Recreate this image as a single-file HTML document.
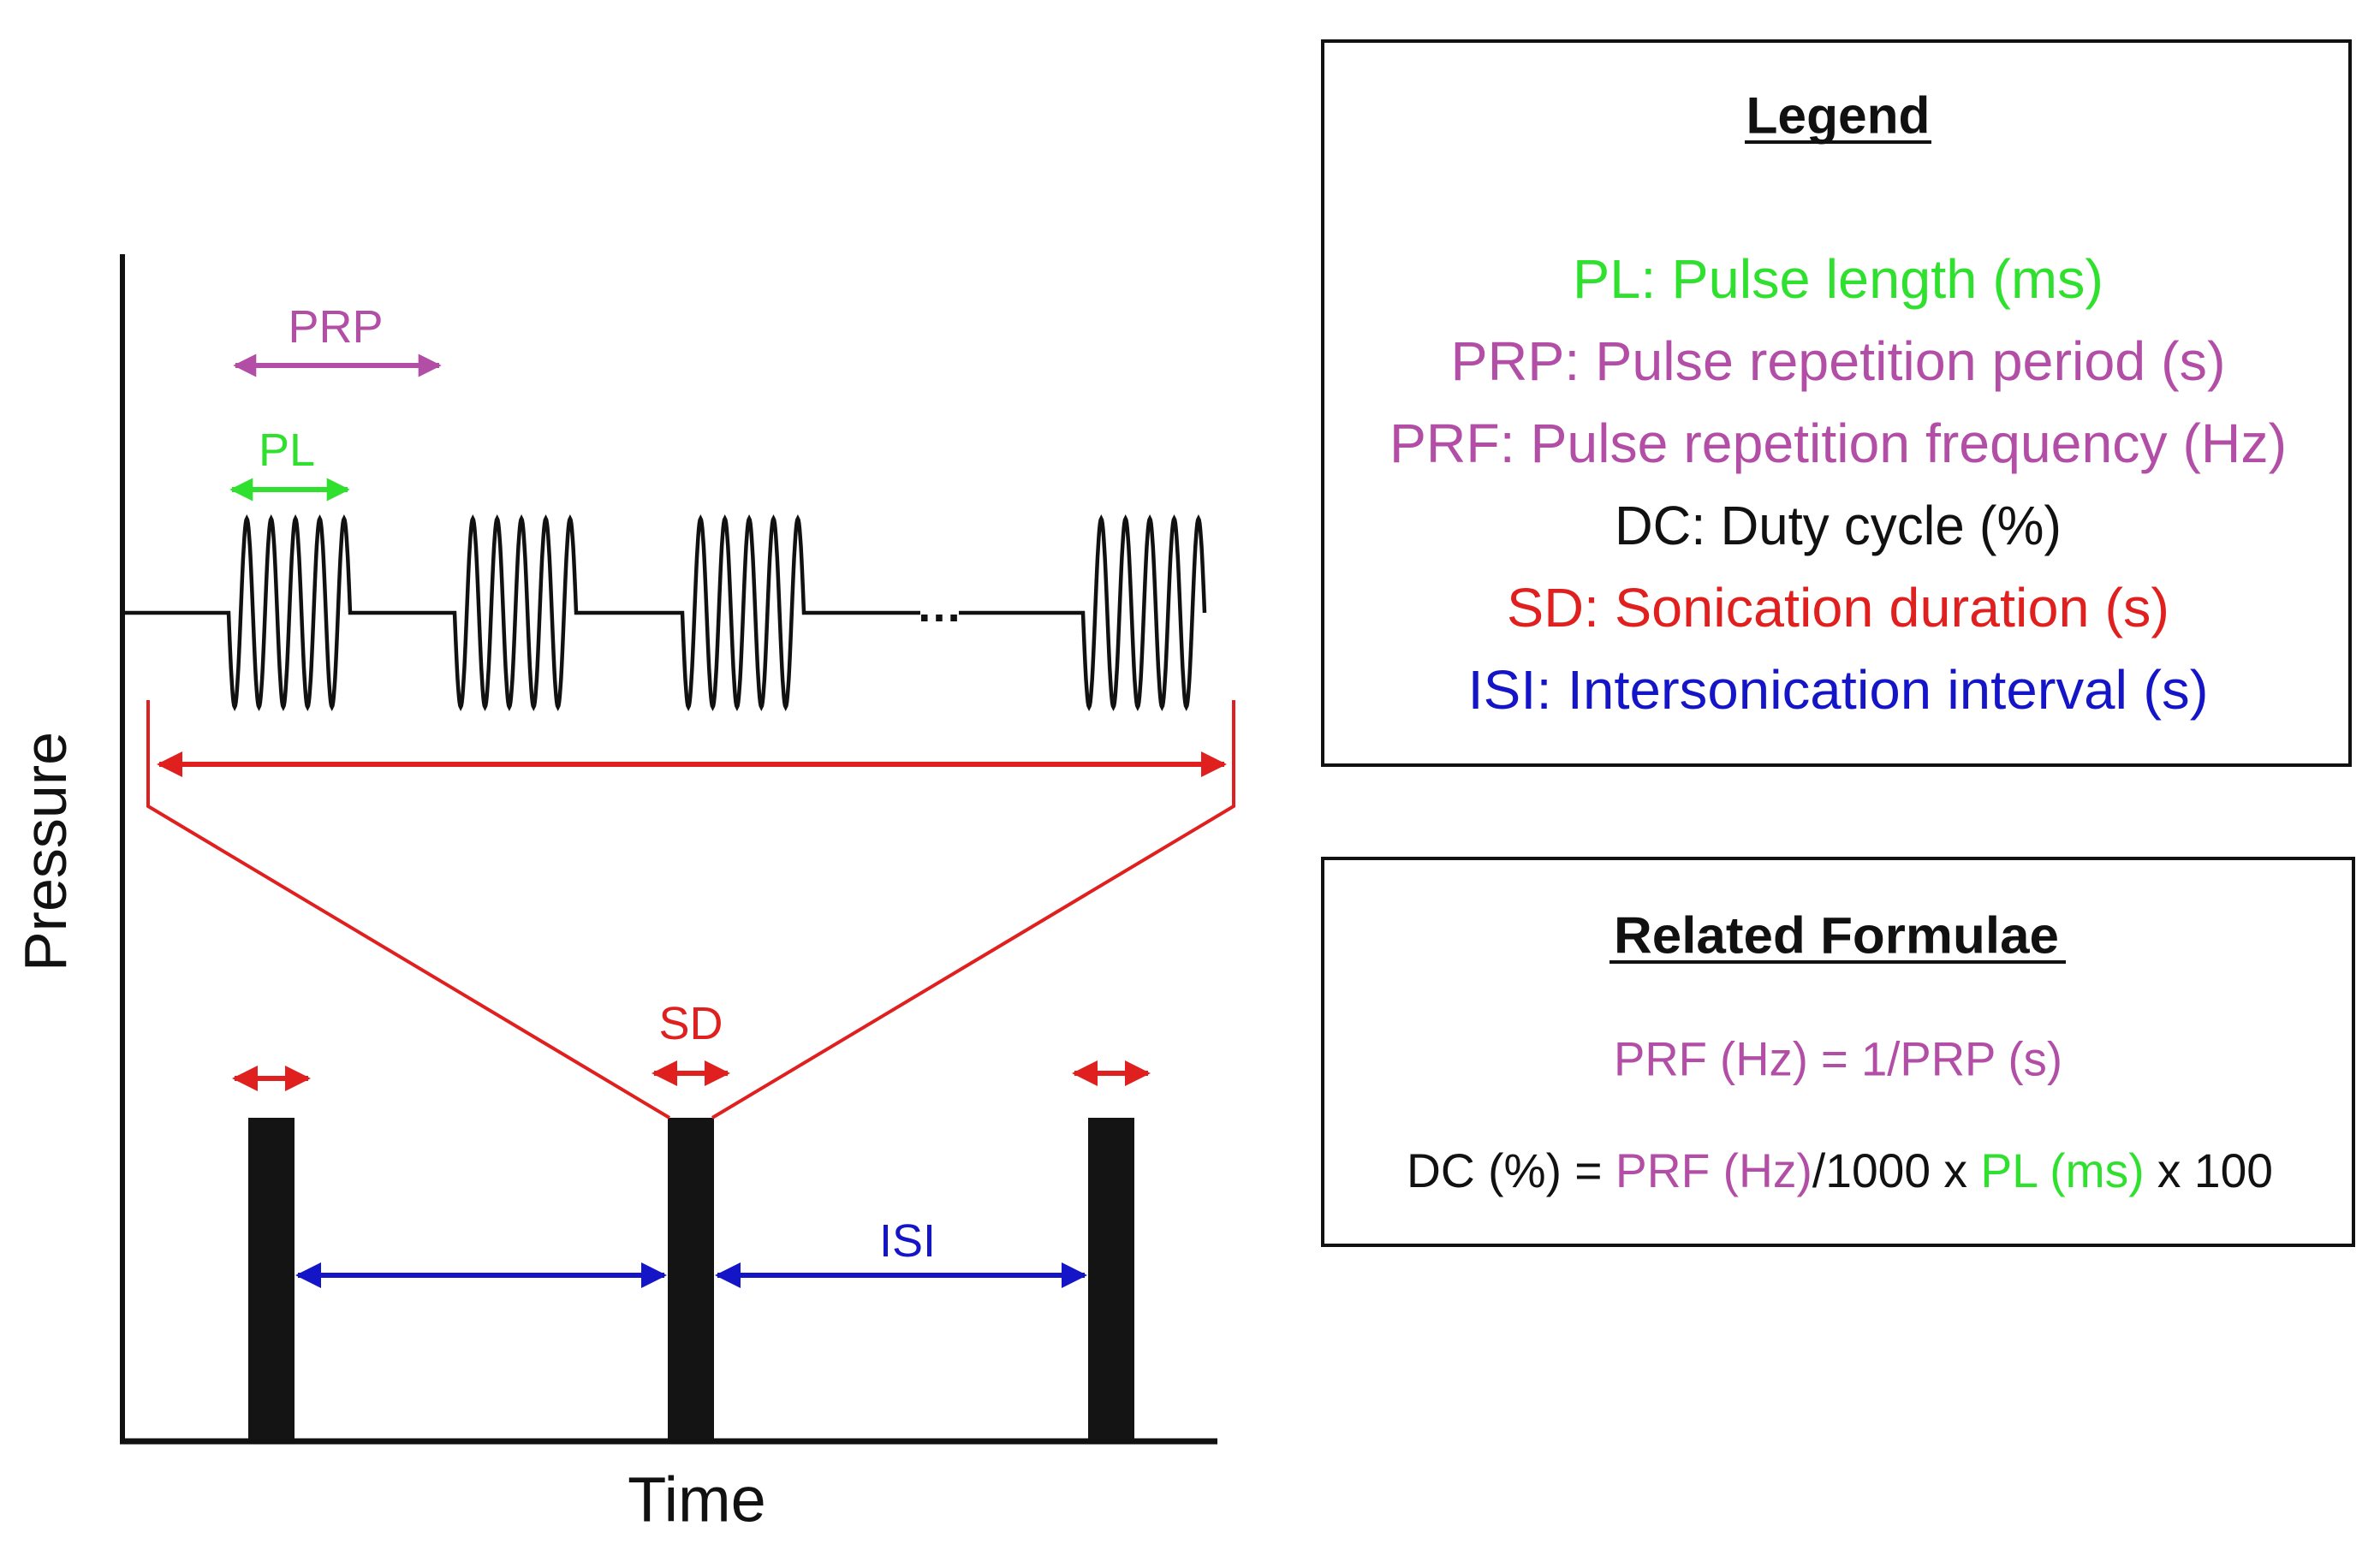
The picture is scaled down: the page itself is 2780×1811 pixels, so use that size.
<!DOCTYPE html>
<html><head><meta charset="utf-8"><style>
html,body{margin:0;padding:0;background:#fff;}
svg{display:block;font-family:"Liberation Sans",sans-serif;}
</style></head>
<body>
<svg id="fig" width="2780" height="1811" viewBox="0 0 2780 1811" xmlns="http://www.w3.org/2000/svg">
<defs>
<marker id="aRed" viewBox="0 0 10 10" refX="9" refY="5" markerWidth="5" markerHeight="5" orient="auto-start-reverse"><path d="M0,0 L10,5 L0,10 z" fill="#e01f1f"/></marker>
<marker id="aBlue" viewBox="0 0 10 10" refX="9" refY="5" markerWidth="5" markerHeight="5" orient="auto-start-reverse"><path d="M0,0 L10,5 L0,10 z" fill="#1515c8"/></marker>
<marker id="aGreen" viewBox="0 0 10 10" refX="9" refY="5" markerWidth="4.5" markerHeight="4.5" orient="auto-start-reverse"><path d="M0,0 L10,5 L0,10 z" fill="#2fe02f"/></marker>
<marker id="aPurple" viewBox="0 0 10 10" refX="9" refY="5" markerWidth="4.5" markerHeight="4.5" orient="auto-start-reverse"><path d="M0,0 L10,5 L0,10 z" fill="#b24ea6"/></marker>
</defs>
<!-- axes -->
<line x1="143" y1="297" x2="143" y2="1687" stroke="#111" stroke-width="6"/>
<line x1="140" y1="1684" x2="1422" y2="1684" stroke="#111" stroke-width="7"/>
<text x="53" y="995" font-size="70" fill="#111" text-anchor="middle" dominant-baseline="central" transform="rotate(-90 53 995)">Pressure</text>
<text x="814" y="1752" font-size="74" fill="#111" text-anchor="middle" dominant-baseline="central">Time</text>
<g id="waves"></g>
<g id="bars"></g>
<!-- PRP / PL -->
<line x1="275" y1="427" x2="513" y2="427" stroke="#b24ea6" stroke-width="6" marker-start="url(#aPurple)" marker-end="url(#aPurple)"/>
<text x="392" y="382" font-size="54" fill="#b24ea6" text-anchor="middle" dominant-baseline="central">PRP</text>
<line x1="271" y1="572" x2="406" y2="572" stroke="#2fe02f" stroke-width="6" marker-start="url(#aGreen)" marker-end="url(#aGreen)"/>
<text x="335" y="526" font-size="54" fill="#2fe02f" text-anchor="middle" dominant-baseline="central">PL</text>
<!-- red bracket -->
<path d="M173,818 L173,942 L782,1306 M1441,818 L1441,942 L832,1306" fill="none" stroke="#e01f1f" stroke-width="4"/>
<line x1="186" y1="893" x2="1430" y2="893" stroke="#e01f1f" stroke-width="6" marker-start="url(#aRed)" marker-end="url(#aRed)"/>
<text x="807" y="1196" font-size="54" fill="#e01f1f" text-anchor="middle" dominant-baseline="central">SD</text>
<text x="1060" y="1450" font-size="54" fill="#1515c8" text-anchor="middle" dominant-baseline="central">ISI</text>
<text x="1097" y="708" font-size="54" fill="#111" text-anchor="middle" dominant-baseline="central" font-weight="bold">…</text>
<!-- legend box -->
<rect x="1545" y="48" width="1200" height="846" fill="none" stroke="#111" stroke-width="4"/>
<text x="2147" y="135" font-size="60" font-weight="bold" fill="#111" text-anchor="middle" dominant-baseline="central" textLength="215" lengthAdjust="spacingAndGlyphs">Legend</text>
<line x1="2038" y1="166" x2="2256" y2="166" stroke="#111" stroke-width="4"/>
<g font-size="64" text-anchor="middle" dominant-baseline="central">
<text x="2147" y="326" fill="#2fe02f" textLength="620" lengthAdjust="spacingAndGlyphs">PL: Pulse length (ms)</text>
<text x="2147" y="422" fill="#b24ea6" textLength="905" lengthAdjust="spacingAndGlyphs">PRP: Pulse repetition period (s)</text>
<text x="2147" y="518" fill="#b24ea6" textLength="1048" lengthAdjust="spacingAndGlyphs">PRF: Pulse repetition frequency (Hz)</text>
<text x="2147" y="614" fill="#111" textLength="522" lengthAdjust="spacingAndGlyphs">DC: Duty cycle (%)</text>
<text x="2147" y="710" fill="#e01f1f" textLength="774" lengthAdjust="spacingAndGlyphs">SD: Sonication duration (s)</text>
<text x="2147" y="806" fill="#1515c8" textLength="865" lengthAdjust="spacingAndGlyphs">ISI: Intersonication interval (s)</text>
</g>
<!-- formula box -->
<rect x="1545" y="1003" width="1204" height="452" fill="none" stroke="#111" stroke-width="4"/>
<text x="2145" y="1093" font-size="60" font-weight="bold" fill="#111" text-anchor="middle" dominant-baseline="central" textLength="520" lengthAdjust="spacingAndGlyphs">Related Formulae</text>
<line x1="1880" y1="1124" x2="2413" y2="1124" stroke="#111" stroke-width="4"/>
<text x="2147" y="1237" font-size="56" fill="#b24ea6" text-anchor="middle" dominant-baseline="central" textLength="524" lengthAdjust="spacingAndGlyphs">PRF (Hz) = 1/PRP (s)</text>
<text x="2149" y="1367" font-size="56" text-anchor="middle" dominant-baseline="central" textLength="1012" lengthAdjust="spacingAndGlyphs"><tspan fill="#111">DC (%) = </tspan><tspan fill="#b24ea6">PRF (Hz)</tspan><tspan fill="#111">/1000 x </tspan><tspan fill="#2fe02f">PL (ms)</tspan><tspan fill="#111"> x 100</tspan></text>
</svg>
<script>
const burstStarts = [267, 531, 797, 1265];
const burstWidth = 142;
const cyclesPerBurst = 5;
const barStarts = [290, 780, 1271];
const barWidth = 54;
const NS = "http://www.w3.org/2000/svg";
const baseY = 716, amp = 110, barTop = 1306, barBottom = 1682;
const xStart = 146;

const wg = document.getElementById('waves');
let d = `M${xStart},${baseY}`;
burstStarts.forEach((s, i) => {
  if (i === 3) { d += ` L1075,${baseY} M1120,${baseY}`; }
  d += ` L${s},${baseY}`;
  const n = cyclesPerBurst * 40;
  for (let k = 0; k <= n; k++) {
    const t = k / n;
    const x = s + t * burstWidth;
    const y = baseY + amp * Math.sin(2 * Math.PI * cyclesPerBurst * t);
    d += ` L${x.toFixed(1)},${y.toFixed(1)}`;
  }
});
const wave = document.createElementNS(NS, 'path');
wave.setAttribute('d', d);
wave.setAttribute('fill', 'none');
wave.setAttribute('stroke', '#111');
wave.setAttribute('stroke-width', '4.5');


wg.appendChild(wave);

const bg = document.getElementById('bars');
barStarts.forEach((b, i) => {
  const r = document.createElementNS(NS, 'rect');
  r.setAttribute('x', b);
  r.setAttribute('y', barTop);
  r.setAttribute('width', barWidth);
  r.setAttribute('height', barBottom - barTop);
  r.setAttribute('fill', '#141414');
  
  
  bg.appendChild(r);
  const a = document.createElementNS(NS, 'line');
  const ay = i === 0 ? 1260 : 1254;
  a.setAttribute('x1', b - 16); a.setAttribute('x2', b + barWidth + 16);
  a.setAttribute('y1', ay); a.setAttribute('y2', ay);
  a.setAttribute('stroke', '#e01f1f'); a.setAttribute('stroke-width', '6');
  a.setAttribute('marker-start', 'url(#aRed)'); a.setAttribute('marker-end', 'url(#aRed)');
  
  
  bg.appendChild(a);
  if (i < barStarts.length - 1) {
    const l = document.createElementNS(NS, 'line');
    l.setAttribute('x1', b + barWidth + 4); l.setAttribute('x2', barStarts[i + 1] - 4);
    l.setAttribute('y1', 1490); l.setAttribute('y2', 1490);
    l.setAttribute('stroke', '#1515c8'); l.setAttribute('stroke-width', '6');
    l.setAttribute('marker-start', 'url(#aBlue)'); l.setAttribute('marker-end', 'url(#aBlue)');
    
    
    bg.appendChild(l);
  }
});
</script>
</body></html>
